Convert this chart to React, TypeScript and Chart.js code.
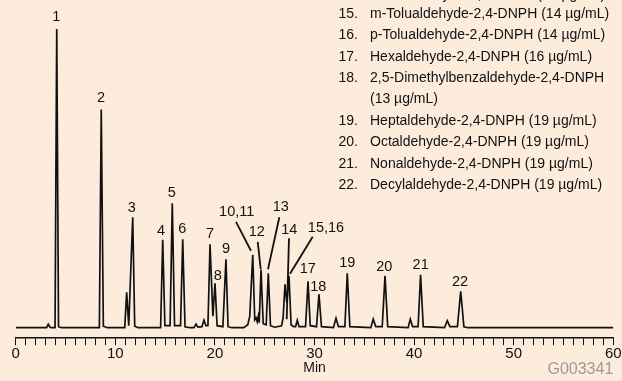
import React, { useEffect, useRef } from "react";
import { Chart, registerables } from "chart.js";

Chart.register(...registerables);

// Chromatogram trace (retention time in min, detector signal in arbitrary units)
const traceTimes = [
  0, 3.1, 3.27, 3.45, 3.6, 3.95, 4.12, 4.3, 4.6,
  8.4, 8.59, 8.8, 9.2,
  10.95, 11.14, 11.35, 11.75, 11.95, 12.3,
  14.55, 14.76, 14.98, 15.5, 15.72, 15.95, 16.55, 16.77, 17.0, 17.5,
  17.9, 18.1, 18.3, 18.7, 18.9, 19.1, 19.3, 19.51, 19.8, 20.01, 20.22, 20.8, 21.11, 21.32, 21.7,
  22.9, 23.3, 23.5, 23.8, 24.0, 24.13, 24.25, 24.36, 24.45, 24.63, 24.85, 25.15, 25.36, 25.58, 26.0,
  26.7, 26.85, 27.04, 27.22, 27.44, 27.65, 27.9, 28.1, 28.27, 28.45,
  29.1, 29.35, 29.57, 30.2, 30.45, 30.7,
  31.9, 32.16, 32.4, 33.05, 33.29, 33.55,
  35.65, 35.9, 36.15, 36.8, 37.08, 37.35,
  39.4, 39.62, 39.85, 40.4, 40.65, 40.92,
  43.05, 43.33, 43.6, 44.35, 44.68, 45.0, 45.4, 60,
];
const traceValues = [
  0, 0, 3.5, 0.5, 0, 0, 299, 1, 0,
  0, 218.5, 1.5, 0,
  0, 35.5, 2, 110.5, 1.5, 0,
  0, 88, 2, 2, 124.5, 2, 2, 88.5, 1, 0,
  0, 3.5, 0.5, 1, 7.5, 2, 2, 83.5, 11.5, 44.5, 2, 1, 68.5, 1, 0,
  0, 3, 11.5, 73, 8, 10, 6, 11.5, 5, 58, 4, 3, 54.5, 2, 0.5,
  2, 10, 43.5, 25, 52, 3, 1, 1, 7.5, 1,
  1, 46.5, 2, 1, 33.5, 1,
  0, 9.5, 1, 1, 54.5, 1,
  0, 8.5, 1, 1, 52, 1,
  0, 8.5, 1, 1, 53, 1,
  0, 7, 1, 1, 36.5, 1, 0, 0,
];

// Peak labels (text, time, signal at label centre)
const peakLabelTexts = ["1", "2", "3", "4", "5", "6", "7", "8", "9", "10,11", "12", "13", "14", "15,16", "17", "18", "19", "20", "21", "22"];
const peakLabelTimes = [4.08, 8.56, 11.65, 14.59, 15.66, 16.73, 19.51, 20.28, 21.11, 22.19, 24.2, 26.61, 27.47, 31.15, 29.32, 30.38, 33.29, 37.01, 40.66, 44.61];
const peakLabelValues = [311, 229.5, 119.5, 97, 134.5, 98.5, 94, 52, 79, 116, 95.5, 120.5, 98, 100, 58.5, 41, 64.5, 60.5, 63, 45.5];

// Leader lines (time/signal start -> end)
const leaderStartTimes = [22.12, 24.3, 26.47, 27.44, 29.82];
const leaderStartValues = [106, 86, 110.5, 89.5, 91];
const leaderEndTimes = [23.62, 24.6, 25.33, 27.21, 27.54];
const leaderEndValues = [77, 58.5, 58.5, 8.5, 54];

// Compound legend (partially visible)
const legendNumbers = ["14.", "15.", "16.", "17.", "18.", "", "19.", "20.", "21.", "22."];
const legendTexts = [
  "o-Tolualdehyde-2,4-DNPH (14 µg/mL)",
  "m-Tolualdehyde-2,4-DNPH (14 µg/mL)",
  "p-Tolualdehyde-2,4-DNPH (14 µg/mL)",
  "Hexaldehyde-2,4-DNPH (16 µg/mL)",
  "2,5-Dimethylbenzaldehyde-2,4-DNPH",
  "(13 µg/mL)",
  "Heptaldehyde-2,4-DNPH (19 µg/mL)",
  "Octaldehyde-2,4-DNPH (19 µg/mL)",
  "Nonaldehyde-2,4-DNPH (19 µg/mL)",
  "Decylaldehyde-2,4-DNPH (19 µg/mL)",
];

const xTickLabels = [0, 10, 20, 30, 40, 50, 60];
const axisTitle = "Min";
const figureId = "G003341";

const FONT = "'Liberation Sans', Arial, Helvetica, sans-serif";
const BG = "#FDECDC";

const overlayPlugin = {
  id: "overlay",
  beforeDraw(chart: any) {
    const ctx = chart.ctx;
    ctx.save();
    ctx.fillStyle = BG;
    ctx.fillRect(0, 0, chart.width, chart.height);
    ctx.restore();
  },
  afterDatasetsDraw(chart: any) {
    const ctx = chart.ctx;
    const xs = chart.scales.x;
    const ys = chart.scales.y;
    ctx.save();
    // leader lines
    ctx.strokeStyle = "#111";
    ctx.lineWidth = 1.8;
    for (let i = 0; i < leaderStartTimes.length; i++) {
      ctx.beginPath();
      ctx.moveTo(xs.getPixelForValue(leaderStartTimes[i]), ys.getPixelForValue(leaderStartValues[i]));
      ctx.lineTo(xs.getPixelForValue(leaderEndTimes[i]), ys.getPixelForValue(leaderEndValues[i]));
      ctx.stroke();
    }
    // peak labels
    ctx.fillStyle = "#111";
    ctx.font = `14.5px ${FONT}`;
    ctx.textAlign = "center";
    ctx.textBaseline = "middle";
    for (let i = 0; i < peakLabelTexts.length; i++) {
      ctx.fillText(peakLabelTexts[i], xs.getPixelForValue(peakLabelTimes[i]), ys.getPixelForValue(peakLabelValues[i]));
    }
    // legend
    ctx.font = `14px ${FONT}`;
    const lineH = 21.4;
    for (let i = 0; i < legendTexts.length; i++) {
      const y = i === 0 ? -5 : 14 + (i - 1) * lineH;
      ctx.textAlign = "right";
      if (legendNumbers[i]) ctx.fillText(legendNumbers[i], 358, y);
      ctx.textAlign = "left";
      ctx.fillText(legendTexts[i], 370, y);
    }
    // figure id
    ctx.fillStyle = "#9a9a9a";
    ctx.font = `16px ${FONT}`;
    ctx.textAlign = "right";
    ctx.fillText(figureId, xs.right, 370);
    ctx.restore();
  },
};

export default function App() {
  const ref = useRef<HTMLCanvasElement | null>(null);
  useEffect(() => {
    if (!ref.current) return;
    const points = traceTimes.map((t, i) => ({ x: t, y: traceValues[i] }));
    const chart = new Chart(ref.current, {
      type: "line",
      data: {
        datasets: [
          {
            data: points,
            borderColor: "#111",
            borderWidth: 1.7,
            pointRadius: 0,
            tension: 0,
            fill: false,
          },
        ],
      },
      options: {
        animation: false,
        responsive: true,
        maintainAspectRatio: false,
        layout: { padding: { left: 15.7, right: 8.7, top: 0, bottom: 1 } },
        plugins: { legend: { display: false }, tooltip: { enabled: false } },
        scales: {
          x: {
            type: "linear",
            min: 0,
            max: 60,
            border: { display: true, color: "#111", width: 1.5 },
            grid: { display: true, drawOnChartArea: false, drawTicks: true, tickLength: 7, tickColor: "#111", tickWidth: 1 },
            ticks: {
              stepSize: 1,
              autoSkip: false,
              maxRotation: 0,
              padding: 0,
              color: "#111",
              font: { family: FONT, size: 15 },
              callback: (v: any) => (xTickLabels.includes(Number(v)) ? String(v) : ""),
            },
            title: {
              display: true,
              text: axisTitle,
              color: "#111",
              font: { family: FONT, size: 14 },
              padding: { top: -3, bottom: 3 },
            },
          },
          y: {
            display: false,
            min: -10.5,
            max: 328,
          },
        },
      },
      plugins: [overlayPlugin],
    });
    return () => chart.destroy();
  }, []);
  return (
    <div style={{ position: "fixed", left: 0, top: 0, width: 622, height: 381, background: BG }}>
      <canvas ref={ref} />
    </div>
  );
}
